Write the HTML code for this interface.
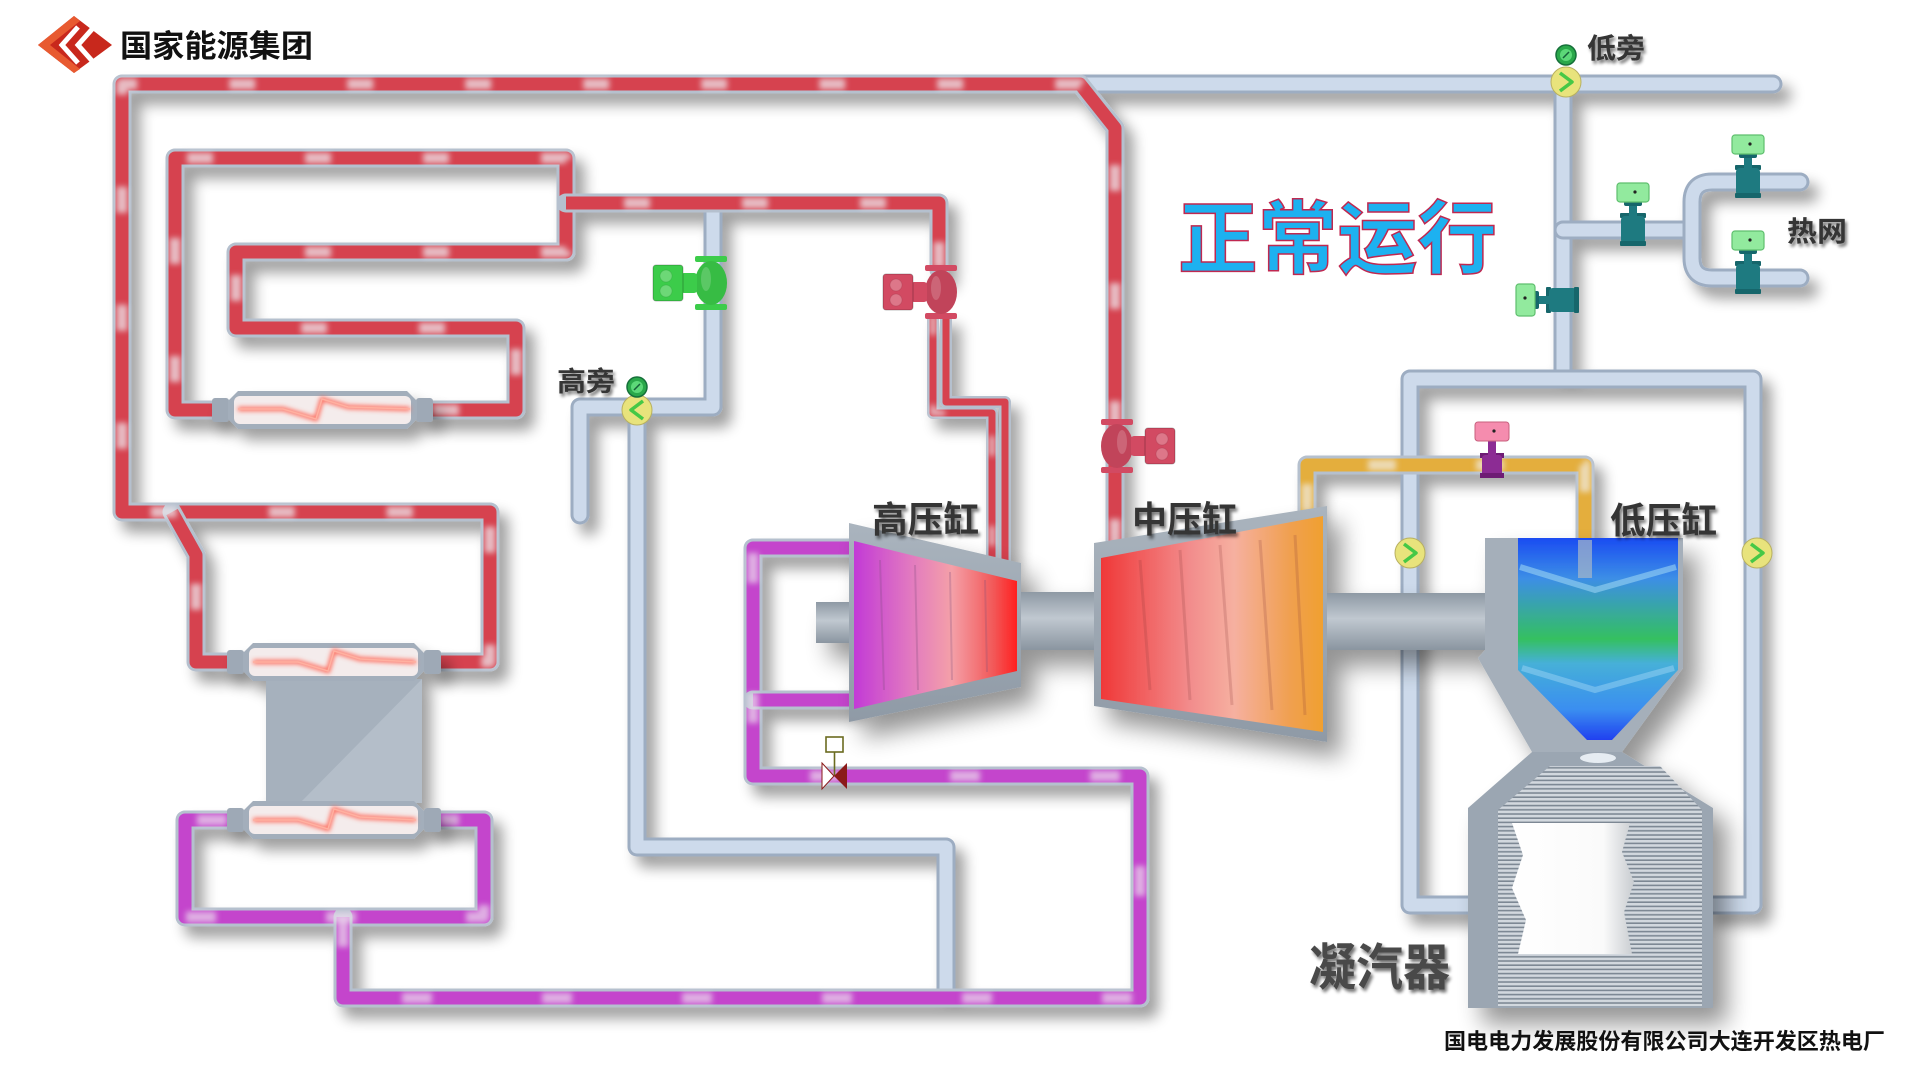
<!DOCTYPE html>
<html><head><meta charset="utf-8"><style>
html,body{margin:0;padding:0;background:#fff;}
svg{display:block}
.be{fill:none;stroke:#9dadc2;stroke-width:19;stroke-linejoin:round;stroke-linecap:round}
.bf{fill:none;stroke:#cddaeb;stroke-width:13;stroke-linejoin:round;stroke-linecap:round}
.re{fill:none;stroke:#b5c0ce;stroke-width:19;stroke-linejoin:round;stroke-linecap:round}
.rf{fill:none;stroke:#d6434f;stroke-width:13;stroke-linejoin:round}
.rd{fill:none;stroke:#ece4ea;stroke-width:11;stroke-linejoin:round;stroke-dasharray:26 92;opacity:.75}
.pf{fill:none;stroke:#c445cc;stroke-width:13;stroke-linejoin:round}
.pd{fill:none;stroke:#e9dcec;stroke-width:11;stroke-linejoin:round;stroke-dasharray:30 110;opacity:.7}
.yf{fill:none;stroke:#e4ae3e;stroke-width:13;stroke-linejoin:round}
.yd{fill:none;stroke:#efe8dc;stroke-width:11;stroke-linejoin:round;stroke-dasharray:28 80;opacity:.75}
.lbl{font-family:"Liberation Sans","Noto Sans CJK SC",sans-serif;font-weight:bold;fill:#363636}
</style></head><body>
<svg width="1920" height="1080" viewBox="0 0 1920 1080" xmlns="http://www.w3.org/2000/svg">
<defs>
<filter id="sh" filterUnits="userSpaceOnUse" x="0" y="0" width="1920" height="1080">
<feGaussianBlur in="SourceAlpha" stdDeviation="7"/><feOffset dx="9" dy="11"/>
<feComponentTransfer><feFuncA type="linear" slope="0.38"/></feComponentTransfer>
<feMerge><feMergeNode/><feMergeNode in="SourceGraphic"/></feMerge></filter>
<filter id="sh2" filterUnits="userSpaceOnUse" x="0" y="0" width="1920" height="1080">
<feGaussianBlur in="SourceAlpha" stdDeviation="12"/><feOffset dx="14" dy="16"/>
<feComponentTransfer><feFuncA type="linear" slope="0.42"/></feComponentTransfer>
<feMerge><feMergeNode/><feMergeNode in="SourceGraphic"/></feMerge></filter>
<filter id="ts" filterUnits="userSpaceOnUse" x="0" y="0" width="1920" height="1080">
<feGaussianBlur in="SourceAlpha" stdDeviation="1.6"/><feOffset dx="2" dy="3"/>
<feComponentTransfer><feFuncA type="linear" slope="0.55"/></feComponentTransfer>
<feMerge><feMergeNode/><feMergeNode in="SourceGraphic"/></feMerge></filter>
<filter id="soft" filterUnits="userSpaceOnUse" x="0" y="0" width="1920" height="1080"><feGaussianBlur stdDeviation="3"/></filter>
<filter id="glow" x="-20%" y="-200%" width="140%" height="500%"><feGaussianBlur stdDeviation="2.5"/></filter>
<linearGradient id="hp" x1="0" x2="1" y1="0" y2="0">
<stop offset="0" stop-color="#c23ad6"/><stop offset="0.35" stop-color="#e27ac0"/><stop offset="0.6" stop-color="#f4a0a8"/><stop offset="0.85" stop-color="#f25a5a"/><stop offset="1" stop-color="#ff2020"/></linearGradient>
<linearGradient id="ip" x1="0" x2="1" y1="0" y2="0">
<stop offset="0" stop-color="#f03838"/><stop offset="0.4" stop-color="#f28c8c"/><stop offset="0.6" stop-color="#f6b0a0"/><stop offset="0.85" stop-color="#f0a050"/><stop offset="1" stop-color="#f0a030"/></linearGradient>
<linearGradient id="lp" x1="0" x2="0" y1="0" y2="1">
<stop offset="0" stop-color="#1a4cf2"/><stop offset="0.2" stop-color="#3c8ee6"/><stop offset="0.5" stop-color="#34c060"/><stop offset="0.62" stop-color="#46b0d8"/><stop offset="0.85" stop-color="#3a8ef0"/><stop offset="1" stop-color="#2040f0"/></linearGradient>
<linearGradient id="shaft" x1="0" x2="0" y1="0" y2="1">
<stop offset="0" stop-color="#8e99a4"/><stop offset="0.45" stop-color="#c0c8d0"/><stop offset="1" stop-color="#8a95a0"/></linearGradient>
<linearGradient id="frame" x1="0" x2="0" y1="0" y2="1">
<stop offset="0" stop-color="#aab4be"/><stop offset="1" stop-color="#8f9aa6"/></linearGradient>
<linearGradient id="wh" x1="0" x2="1" y1="0" y2="0">
<stop offset="0" stop-color="#fff"/><stop offset="0.75" stop-color="#fafafa"/><stop offset="1" stop-color="#c8ccd0"/></linearGradient>
<pattern id="rib" width="8" height="4.2" patternUnits="userSpaceOnUse">
<rect width="8" height="4.2" fill="#d2d8de"/><rect y="2.6" width="8" height="1.6" fill="#7d8894"/></pattern>
<g id="yv"><circle r="15" fill="#e8e37c" stroke="#b8b060" stroke-width="1"/><polyline points="-6,-9 6,0 -6,9" fill="none" stroke="#46c846" stroke-width="3.5" stroke-linejoin="round"/></g>
<g id="gg"><circle r="10" fill="#2aa84a" stroke="#16703a" stroke-width="1.5"/><circle r="6" fill="#5cd878"/><line x1="-3" y1="3" x2="3" y2="-3" stroke="#16603a" stroke-width="1.5"/></g>
<g id="hv"><rect x="-13" y="-17" width="26" height="5" rx="1" fill="#16666b"/><rect x="-12" y="-14" width="24" height="28" rx="4" fill="#1e7a80"/><rect x="-13" y="11" width="26" height="5" rx="1" fill="#16666b"/><rect x="-4" y="-26" width="8" height="12" fill="#1e7a80"/><rect x="-9" y="-29" width="18" height="5" rx="2" fill="#16666b"/><rect x="-16" y="-47" width="32" height="19" rx="3" fill="#92ea9e" stroke="#5fbf6e" stroke-width="1.2"/><circle cx="2" cy="-38" r="1.6" fill="#222"/></g>
<g id="cv"><rect x="-16" y="-27" width="32" height="6" rx="2" fill="currentColor"/><rect x="-16" y="21" width="32" height="6" rx="2" fill="currentColor"/><ellipse rx="16" ry="22" fill="currentColor"/><ellipse rx="16" ry="22" fill="#000" opacity=".08"/><ellipse cx="-5" cy="-4" rx="5" ry="12" fill="#fff" opacity=".18"/><rect x="-30" y="-10" width="16" height="20" rx="3" fill="currentColor"/><rect x="-58" y="-18" width="30" height="36" rx="3" fill="currentColor" stroke="#000" stroke-opacity=".25" stroke-width="1"/><circle cx="-45" cy="-7" r="6" fill="#fff" opacity=".25" stroke="#000" stroke-opacity=".3"/><circle cx="-45" cy="8" r="6" fill="#fff" opacity=".25" stroke="#000" stroke-opacity=".3"/></g>
</defs>

<rect width="1920" height="1080" fill="#fff"/>

<!-- Logo -->
<g>
<polygon points="38,45 74,16 112,45 74,73" fill="#c8281c"/>
<polygon points="38,45 74,16 80,21 50,45 80,69 74,73" fill="#e85a30"/>
<polyline points="78,27 62,45 78,63" fill="none" stroke="#fff" stroke-width="5"/>
<polyline points="94,27 78,45 94,63" fill="none" stroke="#fff" stroke-width="5"/>
<text x="120" y="57" font-size="31" textLength="193" lengthAdjust="spacingAndGlyphs" style="font-family:'Liberation Sans','Noto Sans CJK SC',sans-serif;font-weight:bold;fill:#111">国家能源集团</text>
</g>

<!-- Pipes -->
<g filter="url(#sh)">
<g>
<path class="be" d="M713,203 L713,407 L580,407 L580,515"/>
<path class="bf" d="M713,203 L713,407 L580,407 L580,515"/>
<path class="be" d="M637,410 L637,847 L946,847 L946,998"/>
<path class="bf" d="M637,410 L637,847 L946,847 L946,998"/>
<path class="be" d="M1082,84 L1773,84"/><path class="bf" d="M1082,84 L1773,84"/>
<path class="be" d="M1563,84 L1563,379"/><path class="bf" d="M1563,84 L1563,379"/>
<path class="be" d="M1468,905 L1410,905 L1410,379 L1753,379 L1753,905 L1713,905"/>
<path class="bf" d="M1468,905 L1410,905 L1410,379 L1753,379 L1753,905 L1713,905"/>
<path class="be" d="M1563,230 L1692,230"/><path class="bf" d="M1563,230 L1692,230"/>
<path class="be" d="M1800,182 L1712,182 Q1692,182 1692,202 L1692,258 Q1692,278 1712,278 L1800,278"/>
<path class="bf" d="M1800,182 L1712,182 Q1692,182 1692,202 L1692,258 Q1692,278 1712,278 L1800,278"/>
</g>
<g>
<path class="re" d="M1115,545 L1115,128 L1080,84 L122,84 L122,512 L490,512 L490,662 L441,662"/>
<path class="rf" d="M1115,545 L1115,128 L1080,84 L122,84 L122,512 L490,512 L490,662 L441,662"/>
<path class="re" d="M172,512 L196,555 L196,662 L227,662"/>
<path class="rf" d="M172,512 L196,555 L196,662 L227,662"/>
<path class="re" d="M433,410 L516,410 L516,328 L236,328 L236,252 L566,252 L566,158 L175,158 L175,410 L212,410"/>
<path class="rf" d="M433,410 L516,410 L516,328 L236,328 L236,252 L566,252 L566,158 L175,158 L175,410 L212,410"/>
<path class="re" d="M566,203 L939,203 L939,270"/>
<path class="rf" d="M566,203 L939,203 L939,270"/>
<path d="M933,315 L933,413 L992,413 L992,563" fill="none" stroke="#b5c0ce" stroke-width="12" stroke-linejoin="round"/>
<path d="M933,315 L933,413 L992,413 L992,563" fill="none" stroke="#d6434f" stroke-width="7" stroke-linejoin="round"/>
<path d="M946,315 L946,402 L1005,402 L1005,563" fill="none" stroke="#b5c0ce" stroke-width="12" stroke-linejoin="round"/>
<path d="M946,315 L946,402 L1005,402 L1005,563" fill="none" stroke="#d6434f" stroke-width="7" stroke-linejoin="round"/>
</g>
<g>
<path class="re" d="M227,820 L185,820 L185,917 L484,917 L484,820 L441,820"/>
<path class="pf" d="M227,820 L185,820 L185,917 L484,917 L484,820 L441,820"/>
<path class="re" d="M343,917 L343,998 L1140,998 L1140,776 L753,776 L753,548 L849,548"/>
<path class="pf" d="M343,917 L343,998 L1140,998 L1140,776 L753,776 L753,548 L849,548"/>
<path class="re" d="M753,700 L849,700"/><path class="pf" d="M753,700 L849,700"/>
</g>
<g>
<path class="re" d="M1307,512 L1307,465 L1585,465 L1585,545"/>
<path class="yf" d="M1307,512 L1307,465 L1585,465 L1585,545"/>
</g>
</g>
<!-- mottled patches -->
<g filter="url(#soft)">
<path class="rd" d="M1115,545 L1115,128 L1080,84 L122,84 L122,512 L490,512 L490,662 L441,662"/>
<path class="rd" d="M172,512 L196,555 L196,662 L227,662" style="stroke-dashoffset:40"/>
<path class="rd" d="M433,410 L516,410 L516,328 L236,328 L236,252 L566,252 L566,158 L175,158 L175,410 L212,410"/>
<path class="rd" d="M566,203 L939,203 L939,270" style="stroke-dashoffset:60"/>
<path d="M933,315 L933,413 L992,413 L992,563" fill="none" stroke="#ece4ea" stroke-width="6" stroke-dasharray="20 70" opacity=".7"/>
<path class="pd" d="M227,820 L185,820 L185,917 L484,917 L484,820 L441,820"/>
<path class="pd" d="M343,917 L343,998 L1140,998 L1140,776 L753,776 L753,548 L849,548"/>
<path class="yd" d="M1307,512 L1307,465 L1585,465 L1585,545"/>
</g>

<!-- Heat exchangers -->
<g filter="url(#sh)">
<g>
<rect x="212" y="398" width="17" height="24" rx="3" fill="#9ea9b6"/><rect x="416" y="398" width="17" height="24" rx="3" fill="#9ea9b6"/>
<polygon points="238,391 407,391 417,401 417,419 407,429 238,429 228,419 228,401" fill="#a3aebb"/>
<rect x="234" y="396" width="177" height="28" rx="6" fill="#f4ecec"/>
<path d="M238,409 L283,409 L316,419 L322,399 L348,407 L410,409" fill="none" stroke="#ff6050" stroke-width="4" filter="url(#glow)"/>
<path d="M238,409 L283,409 L316,419 L322,399 L348,407 L410,409" fill="none" stroke="#ffb0a0" stroke-width="1.5"/>
</g>
<rect x="266" y="679" width="156" height="124" fill="#a6b1bd"/>
<polygon points="422,679 422,803 300,803" fill="#b4bec9"/>
<g>
<rect x="227" y="650" width="17" height="24" rx="3" fill="#9ea9b6"/><rect x="424" y="650" width="17" height="24" rx="3" fill="#9ea9b6"/>
<polygon points="253,643 414,643 424,653 424,671 414,681 253,681 243,671 243,653" fill="#a3aebb"/>
<rect x="249" y="648" width="169" height="28" rx="6" fill="#f4ecec"/>
<path d="M253,662 L298,662 L328,671 L334,651 L360,659 L416,662" fill="none" stroke="#ff6050" stroke-width="4" filter="url(#glow)"/>
<path d="M253,662 L298,662 L328,671 L334,651 L360,659 L416,662" fill="none" stroke="#ffb0a0" stroke-width="1.5"/>
</g>
<g>
<rect x="227" y="808" width="17" height="24" rx="3" fill="#9ea9b6"/><rect x="424" y="808" width="17" height="24" rx="3" fill="#9ea9b6"/>
<polygon points="253,801 414,801 424,811 424,829 414,839 253,839 243,829 243,811" fill="#a3aebb"/>
<rect x="249" y="806" width="169" height="28" rx="6" fill="#f4ecec"/>
<path d="M253,820 L298,820 L328,829 L334,809 L360,817 L416,820" fill="none" stroke="#ff6050" stroke-width="4" filter="url(#glow)"/>
<path d="M253,820 L298,820 L328,829 L334,809 L360,817 L416,820" fill="none" stroke="#ffb0a0" stroke-width="1.5"/>
</g>
</g>

<!-- Turbines -->
<g filter="url(#sh2)">
<rect x="816" y="602" width="40" height="41" fill="url(#shaft)"/>
<rect x="1018" y="592" width="80" height="58" fill="url(#shaft)"/>
<rect x="1324" y="593" width="164" height="57" fill="url(#shaft)"/>
<polygon points="849,523 1021,563 1021,687 849,722" fill="url(#frame)"/>
<polygon points="854,541 1017,581 1017,671 854,709" fill="url(#hp)"/>
<g stroke="#7a4a7a" stroke-width="2" opacity=".25"><line x1="880" y1="560" x2="884" y2="690"/><line x1="915" y1="565" x2="918" y2="690"/><line x1="950" y1="572" x2="952" y2="680"/><line x1="985" y1="580" x2="987" y2="672"/></g>
<polygon points="1094,543 1327,506 1327,742 1094,706" fill="url(#frame)"/>
<polygon points="1101,558 1323,516 1323,732 1101,699" fill="url(#ip)"/>
<g stroke="#8a3a3a" stroke-width="3" opacity=".2"><line x1="1140" y1="560" x2="1150" y2="690"/><line x1="1180" y1="550" x2="1190" y2="700"/><line x1="1220" y1="545" x2="1232" y2="705"/><line x1="1260" y1="540" x2="1272" y2="710"/><line x1="1295" y1="535" x2="1305" y2="715"/></g>
<polygon points="1485,538 1683,538 1683,668 1622,752 1532,752 1478,658 1485,650" fill="#a5afba"/>
<polygon points="1518,538 1678,538 1678,670 1612,740 1587,740 1518,670" fill="url(#lp)"/>
<polyline points="1520,567 1595,590 1676,567" fill="none" stroke="#9ad4f4" stroke-width="6" opacity=".6"/>
<polyline points="1522,668 1595,690 1674,668" fill="none" stroke="#9ad4f4" stroke-width="6" opacity=".5"/>
<rect x="1578" y="540" width="14" height="38" fill="#a8b8c8" opacity=".7"/>
<polygon points="1532,752 1622,752 1713,808 1713,1008 1468,1008 1468,808" fill="#9ba6b2"/>
<polygon points="1550,766 1660,766 1702,810 1702,1006 1498,1006 1498,810" fill="url(#rib)"/>
<ellipse cx="1598" cy="758" rx="18" ry="5" fill="#e6ecf2"/>
<path d="M1512,823 L1630,823 L1622,852 L1634,882 L1624,912 L1632,954 L1518,954 L1526,920 L1512,888 L1523,855 Z" fill="url(#wh)"/>
</g>

<!-- Valves -->
<use href="#cv" x="711" y="283" style="color:#3ccc4a"/>
<use href="#cv" x="941" y="292" style="color:#d24a62"/>
<use href="#cv" transform="translate(1117,446) scale(-1,1)" style="color:#d24a62"/>
<use href="#yv" transform="translate(637,410) scale(-1,1)"/>
<use href="#gg" x="637" y="387"/>
<use href="#yv" x="1566" y="82"/>
<use href="#gg" x="1566" y="55"/>
<use href="#yv" x="1410" y="553"/>
<use href="#yv" x="1757" y="553"/>
<use href="#hv" x="1633" y="230"/>
<use href="#hv" x="1748" y="182"/>
<use href="#hv" x="1748" y="278"/>
<use href="#hv" transform="translate(1563,300) rotate(-90)"/>
<g>
<rect x="1480" y="453" width="24" height="5" fill="#6e1c74"/><rect x="1482" y="455" width="20" height="21" rx="3" fill="#8c2c94"/><rect x="1480" y="473" width="24" height="5" fill="#6e1c74"/>
<rect x="1488" y="440" width="8" height="15" fill="#8c2c94"/>
<rect x="1475" y="422" width="34" height="19" rx="3" fill="#f58cae" stroke="#c8607e"/>
<circle cx="1494" cy="431" r="1.6" fill="#222"/>
</g>
<g>
<rect x="826" y="737" width="17" height="15" fill="none" stroke="#6b6b20" stroke-width="1.6"/>
<line x1="834.5" y1="752" x2="834.5" y2="776" stroke="#6b6b20" stroke-width="1.6"/>
<polygon points="822,763 834,776 822,789" fill="#fff" stroke="#8b1a1a" stroke-width="1"/>
<polygon points="847,763 834,776 847,789" fill="#8b1a1a"/>
</g>

<!-- Labels -->
<g filter="url(#ts)">
<text class="lbl" x="557" y="391" font-size="27" textLength="58" lengthAdjust="spacingAndGlyphs">高旁</text>
<text class="lbl" x="1587" y="58" font-size="28" textLength="58" lengthAdjust="spacingAndGlyphs">低旁</text>
<text class="lbl" x="1787" y="241" font-size="28" textLength="60" lengthAdjust="spacingAndGlyphs">热网</text>
<text class="lbl" x="872" y="532" font-size="36" textLength="107" lengthAdjust="spacingAndGlyphs">高压缸</text>
<text class="lbl" x="1132" y="532" font-size="36" textLength="105" lengthAdjust="spacingAndGlyphs">中压缸</text>
<text class="lbl" x="1610" y="533" font-size="36" textLength="107" lengthAdjust="spacingAndGlyphs">低压缸</text>
<text class="lbl" x="1309" y="985" font-size="50" textLength="141" lengthAdjust="spacingAndGlyphs" style="fill:#4a4a4a">凝汽器</text>
</g>
<text x="1178" y="267" font-size="80" textLength="319" lengthAdjust="spacingAndGlyphs" style="font-family:'Liberation Sans','Noto Sans CJK SC',sans-serif;font-weight:bold;fill:#1db1f0;stroke:#c02850;stroke-width:1.5">正常运行</text>
<text x="1444" y="1049" font-size="22" textLength="441" lengthAdjust="spacingAndGlyphs" style="font-family:'Liberation Sans','Noto Sans CJK SC',sans-serif;font-weight:bold;fill:#111">国电电力发展股份有限公司大连开发区热电厂</text>
</svg>
</body></html>
